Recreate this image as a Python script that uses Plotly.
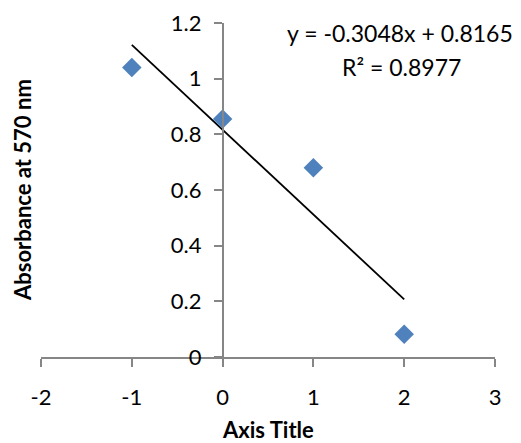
import numpy as np
import plotly.graph_objects as go

x_vals = [-1, 0, 1, 2]
y_vals = [1.04, 0.855, 0.68, 0.082]
x_ticks = [-2, -1, 0, 1, 2, 3]
x_tick_text = ["-2", "-1", "0", "1", "2", "3"]
y_ticks = [0, 0.2, 0.4, 0.6, 0.8, 1, 1.2]
y_tick_text = ["0", "0.2", "0.4", "0.6", "0.8", "1", "1.2"]
eq_text = "y = -0.3048x + 0.8165"
r2_text = "R² = 0.8977"
x_title = "Axis Title"
y_title = "Absorbance at 570 nm"

slope, intercept = np.polyfit(x_vals, y_vals, 1)
trend_x = [min(x_vals), max(x_vals)]
trend_y = [slope * v + intercept for v in trend_x]

FONT = "Lato"
AX = "#868686"
W, H = 521, 443
l, r, t, b = 41, 26, 23, 86
pw, ph = W - l - r, H - t - b


def px_to_paper(px, py):
    return (px - l) / pw, (H - py - b) / ph


fig = go.Figure()
fig.add_trace(go.Scatter(x=trend_x, y=trend_y, mode="lines",
                         line=dict(color="black", width=1.8), showlegend=False))
fig.add_trace(go.Scatter(x=x_vals, y=y_vals, mode="markers",
                         marker=dict(symbol="diamond", size=15, color="#4F81BD",
                                     line=dict(width=0)), showlegend=False))

ann = []
for text, (px, py), size, angle in [
    (eq_text, (400, 33), 23, 0),
    (r2_text, (401, 67), 23, 0),
    ("<b>" + x_title + "</b>", (268, 430), 22, 0),
    ("<b>" + y_title + "</b>", (22, 190), 22, -90),
]:
    ax_, ay_ = px_to_paper(px, py)
    ann.append(dict(text=text, x=ax_, y=ay_, xref="paper", yref="paper",
                    showarrow=False, textangle=angle, font=dict(size=size),
                    xanchor="center", yanchor="middle"))

fig.update_layout(
    width=W, height=H,
    margin=dict(l=l, r=r, t=t, b=b),
    paper_bgcolor="white", plot_bgcolor="white",
    font=dict(family=FONT, size=22, color="black"),
    xaxis=dict(range=[-2, 3], tickvals=x_ticks, ticktext=x_tick_text,
               showgrid=False, zeroline=False, automargin=False,
               showline=True, linecolor=AX, linewidth=1.5,
               ticks="outside", ticklen=8, tickcolor=AX, tickwidth=1.5,
               ticklabelstandoff=12, tickfont=dict(size=22)),
    yaxis=dict(range=[0, 1.2], tickvals=y_ticks, ticktext=y_tick_text,
               showgrid=False, zeroline=False, automargin=False,
               anchor="free", position=0.4,
               showline=True, linecolor=AX, linewidth=1.5,
               ticks="outside", ticklen=8, tickcolor=AX, tickwidth=1.5,
               ticklabelstandoff=8, tickfont=dict(size=22)),
    annotations=ann,
)

fig.write_html("out.html", config={"displayModeBar": False},
               post_script="document.body.style.margin='0';document.body.style.overflow='hidden';")
